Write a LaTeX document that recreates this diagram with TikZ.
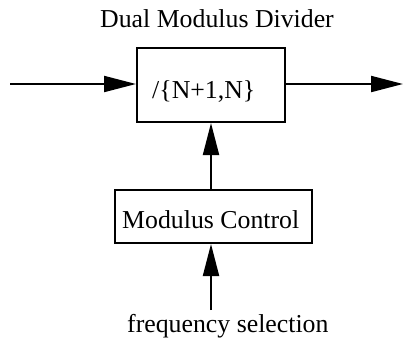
\documentclass[tikz,border=0pt]{standalone}
\usepackage{fontspec}
\setmainfont{Liberation Serif}
\usetikzlibrary{arrows.meta}
\begin{document}
\begin{tikzpicture}[x=1pt,y=-1pt,
  every node/.style={font=\fontsize{25.8}{30}\selectfont, inner sep=0pt},
  blockbox/.style={draw, line width=2pt, rectangle},
  txt/.style={anchor=base west},
  sig/.style={line width=2pt, -{Triangle[length=32pt,width=16pt]}}]
  \useasboundingbox (0,0) rectangle (404,341);

  % title
  \node[txt] (title) at (100,27) {Dual Modulus Divider};

  % divider block
  \node[blockbox, minimum width=148pt, minimum height=74pt] (div) at (211,85) {};
  \node[txt] (divtxt) at (152,98) {/\{N+1,N\}};

  % modulus control block
  \node[blockbox, minimum width=197pt, minimum height=53pt] (ctrl) at (213.5,216.5) {};
  \node[txt] (ctrltxt) at (122,228) {Modulus Control};

  % input label
  \node[txt] (freq) at (127,332) {frequency selection};

  % signal ends
  \coordinate (in) at (10,84);
  \coordinate (out) at (403,84);
  \coordinate (sel) at (211,310);

  % connectors
  \draw[sig] (in) -- (in -| div.west);
  \draw[sig] (out -| div.east) -- (out);
  \draw[sig] (sel |- ctrl.north) -- (sel |- div.south);
  \draw[sig] (sel) -- (sel |- ctrl.south);
\end{tikzpicture}
\end{document}
